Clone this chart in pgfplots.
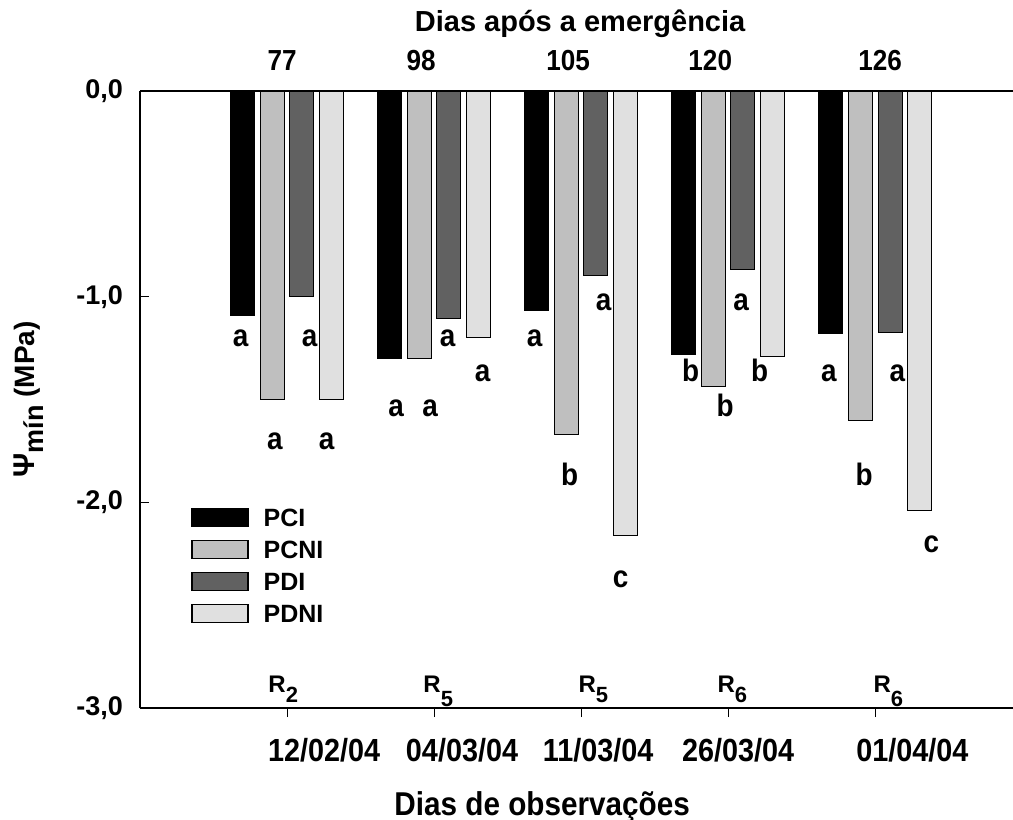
\documentclass[border=0pt]{standalone}
\usepackage{fontspec}
\setmainfont{Liberation Sans}
\newfontfamily\condf[FakeStretch=0.9]{Liberation Sans}
\usepackage{pgfplots}
\pgfplotsset{compat=1.18}
\definecolor{cPCNI}{gray}{0.75}
\definecolor{cPDI}{gray}{0.38}
\definecolor{cPDNI}{gray}{0.88}
\newcommand{\fs}[1]{\fontsize{#1}{#1}\selectfont\bfseries}
\newcommand{\fc}[1]{\condf\fontsize{#1}{#1}\selectfont\bfseries}
\begin{document}
\begin{tikzpicture}[x=1pt,y=1pt]
\useasboundingbox (-70,-56) rectangle (436.5,354);
\begin{axis}[
  at={(0,0)}, anchor=south west, scale only axis,
  width=436pt, height=308.5pt,
  xmin=0, xmax=5.93, ymin=-3, ymax=0,
  axis line style={draw=none},
  ytick={-3,-2,-1,0}, yticklabels={{-3,0},{-2,0},{-1,0},{0,0}},
  xtick={1,2,3,4,5}, xticklabels={},
  /pgf/number format/assume math mode=true,
  tick align=inside, major tick length=4.5pt,
  ytick pos=left, xtick pos=bottom,
  tick style={black, line width=0.5pt},
  yticklabel style={font=\fs{13.5}, xshift=-5pt},
  ybar=2.8pt, bar width=12pt,
  clip=false,
  legend image code/.code={\draw[#1, line width=0.6pt] (0pt,-4.5pt) rectangle (28pt,4.5pt);},
  legend style={at={(axis cs:0.347,-2.027)}, anchor=north west, draw=none, fill=none,
    inner sep=0pt, font=\fs{12.5}, row sep=6.4pt, column sep=7.5pt,
    nodes={inner sep=0pt, text height=9pt, text depth=0pt}},
  legend cell align=left,
]
\addplot[fill=black, draw=black, line width=0.5pt] coordinates {(1,-1.09) (2,-1.30) (3,-1.065) (4,-1.28) (5,-1.18)};
\addplot[fill=cPCNI, draw=black, line width=0.5pt] coordinates {(1,-1.50) (2,-1.30) (3,-1.67) (4,-1.437) (5,-1.60)};
\addplot[fill=cPDI, draw=black, line width=0.5pt] coordinates {(1,-1.0) (2,-1.105) (3,-0.898) (4,-0.87) (5,-1.175)};
\addplot[fill=cPDNI, draw=black, line width=0.5pt] coordinates {(1,-1.50) (2,-1.20) (3,-2.163) (4,-1.29) (5,-2.04)};
\legend{PCI,PCNI,PDI,PDNI}

% axis frame (left, top, bottom)
\draw[line width=0.6pt] (rel axis cs:0,0) -- (rel axis cs:0,1);
\draw[line width=0.8pt] (rel axis cs:0,1) -- (rel axis cs:1.02,1);
\draw[line width=0.8pt] (rel axis cs:0,0) -- (rel axis cs:1.02,0);

% letters
\tikzset{lt/.style={font=\fc{15.5}, inner sep=0pt, anchor=center}}
\node[lt] at (axis cs:0.684,-1.203) {a};
\node[lt] at (axis cs:0.918,-1.704) {a};
\node[lt] at (axis cs:1.153,-1.203) {a};
\node[lt] at (axis cs:1.269,-1.704) {a};
\node[lt] at (axis cs:1.741,-1.541) {a};
\node[lt] at (axis cs:1.973,-1.541) {a};
\node[lt] at (axis cs:2.092,-1.203) {a};
\node[lt] at (axis cs:2.330,-1.373) {a};
\node[lt] at (axis cs:2.684,-1.203) {a};
\node[lt] at (axis cs:2.922,-1.862) {b};
\node[lt] at (axis cs:3.153,-1.028) {a};
\node[lt] at (axis cs:3.269,-2.372) {c};
\node[lt] at (axis cs:3.745,-1.361) {b};
\node[lt] at (axis cs:3.980,-1.531) {b};
\node[lt] at (axis cs:4.088,-1.028) {a};
\node[lt] at (axis cs:4.214,-1.361) {b};
\node[lt] at (axis cs:4.684,-1.373) {a};
\node[lt] at (axis cs:4.925,-1.862) {b};
\node[lt] at (axis cs:5.150,-1.373) {a};
\node[lt] at (axis cs:5.381,-2.202) {c};

% top title and days
\node[font=\fs{14.5}, anchor=base] at (axis cs:2.993,0.287) {Dias após a emergência};
\tikzset{dn/.style={font=\fc{14.5}, anchor=base, inner sep=0pt}}
\node[dn] at (axis cs:0.966,0.102) {77};
\node[dn] at (axis cs:1.912,0.102) {98};
\node[dn] at (axis cs:2.912,0.102) {105};
\node[dn] at (axis cs:3.878,0.102) {120};
\node[dn] at (axis cs:5.034,0.102) {126};

% stage labels
\tikzset{rl/.style={anchor=base west, inner sep=0pt}}
\node[rl] at (axis cs:0.871,-2.927) {\fs{12}R\raisebox{-5pt}{\fs{11}2}};
\node[rl] at (axis cs:1.925,-2.927) {\fs{12}R\raisebox{-7pt}{\fs{11}5}};
\node[rl] at (axis cs:2.980,-2.927) {\fs{12}R\raisebox{-5pt}{\fs{11}5}};
\node[rl] at (axis cs:3.925,-2.927) {\fs{12}R\raisebox{-5pt}{\fs{11}6}};
\node[rl] at (axis cs:4.986,-2.927) {\fs{12}R\raisebox{-7pt}{\fs{11}6}};

% dates
\tikzset{dt/.style={font=\fc{16}, anchor=base, inner sep=0pt}}
\node[dt] at (axis cs:1.252,-3.262) {12/02/04};
\node[dt] at (axis cs:2.190,-3.262) {04/03/04};
\node[dt] at (axis cs:3.116,-3.262) {11/03/04};
\node[dt] at (axis cs:4.068,-3.262) {26/03/04};
\node[dt] at (axis cs:5.252,-3.262) {01/04/04};

% x label
\node[font=\fc{16.5}, anchor=base, inner sep=0pt] at (axis cs:2.735,-3.525) {Dias de observações};

% y label
\node[xshift=-52.5pt, rotate=90, anchor=base, inner sep=0pt] at (rel axis cs:0,0.5)
  {\fs{15}Ψ\raisebox{-4.5pt}{\fs{13.5}mín}\fs{14} (MPa)};
\end{axis}
\end{tikzpicture}
\end{document}
